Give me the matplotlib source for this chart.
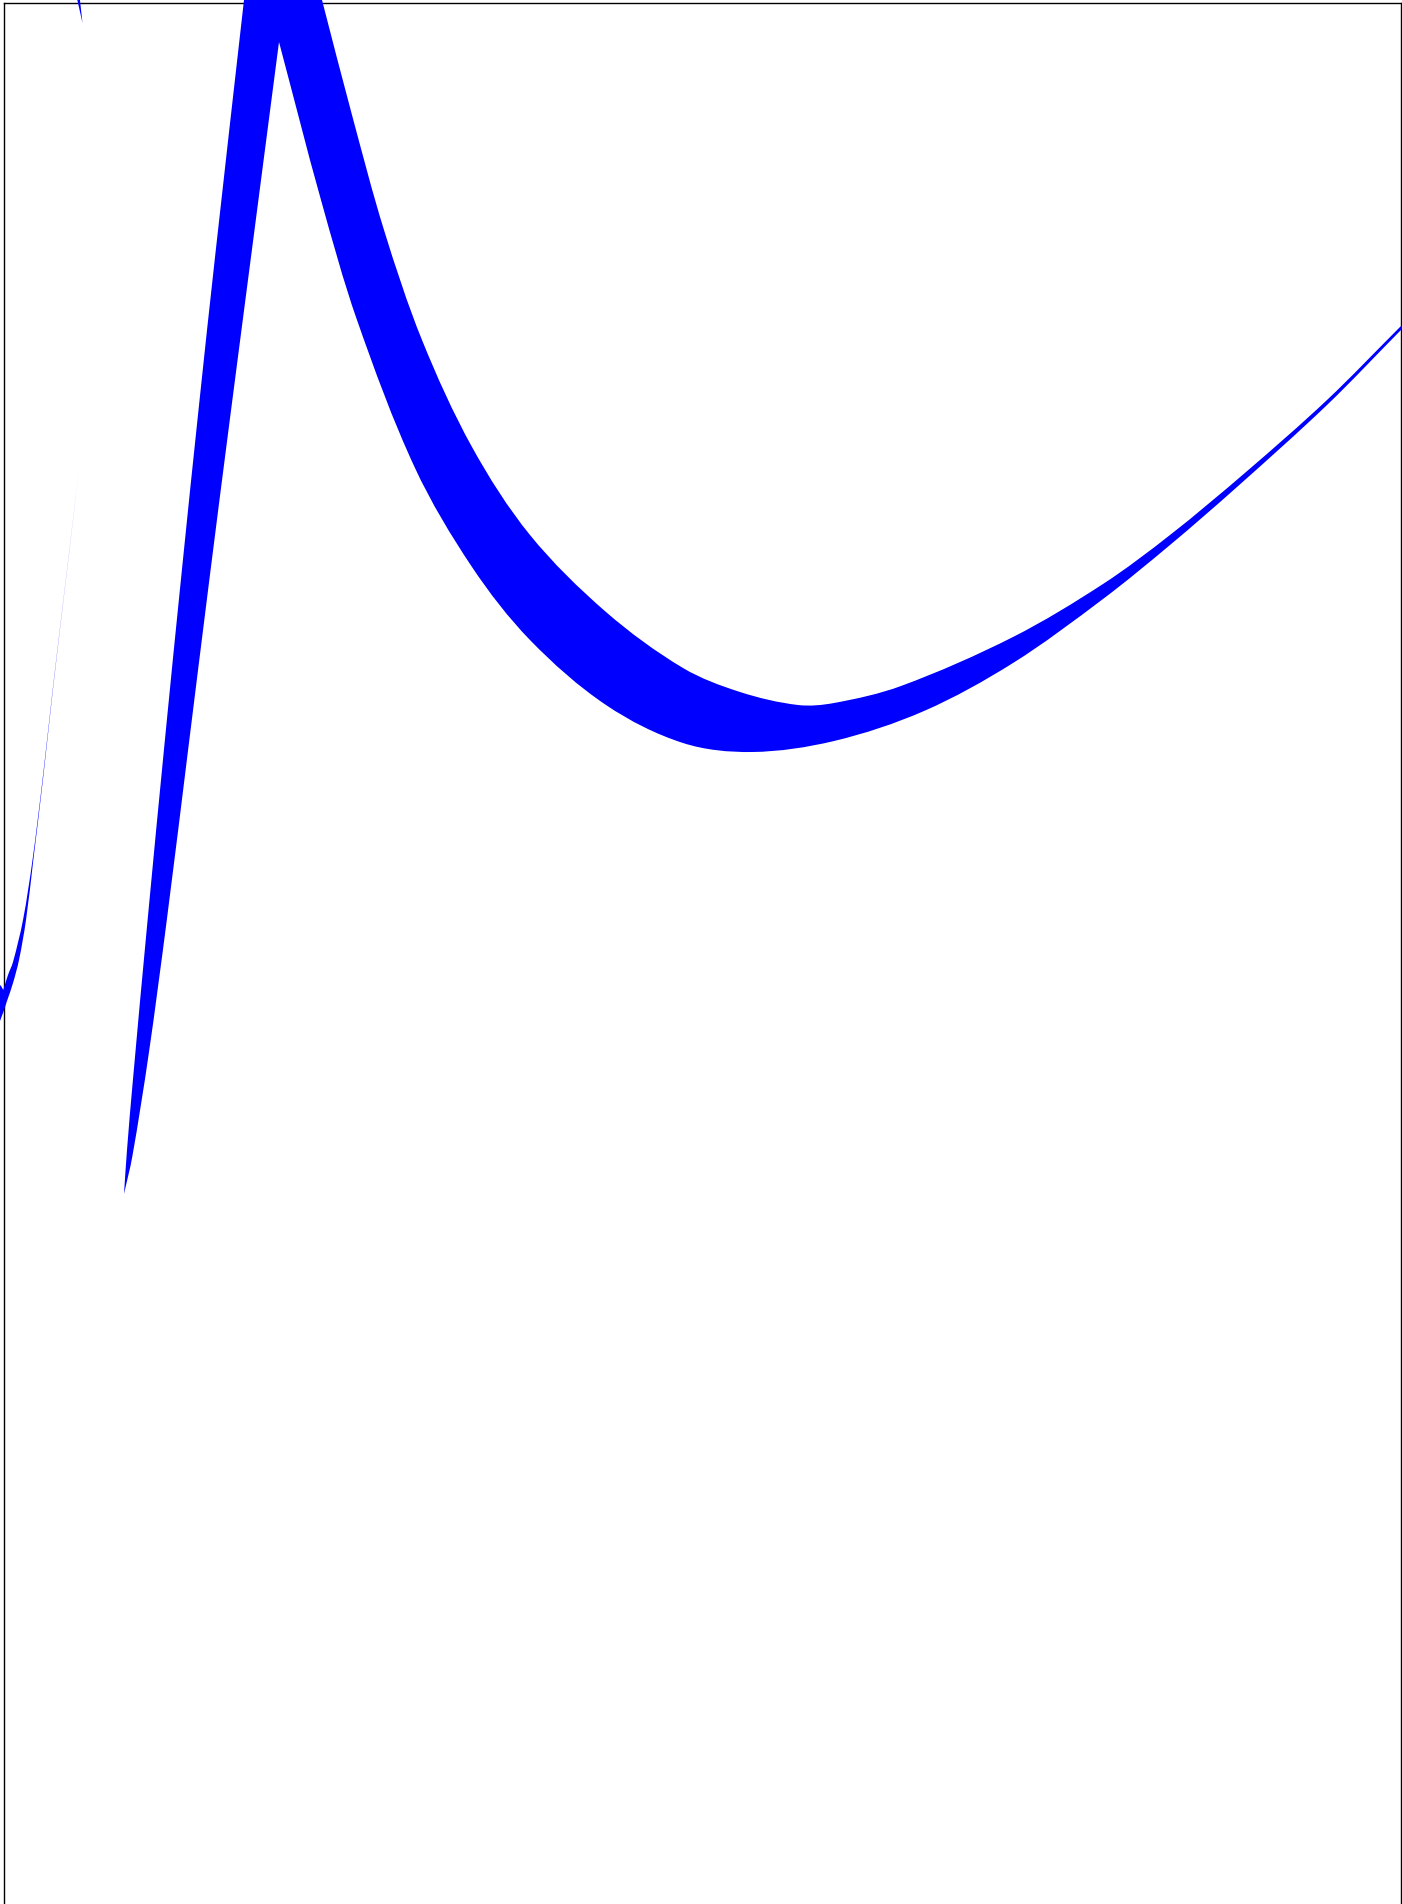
import numpy as np
import matplotlib
matplotlib.use("Agg")
import matplotlib.pyplot as plt
from matplotlib.path import Path
from matplotlib.patches import PathPatch

# ---- data (x right, y up) ----
# main band: upper (outer) boundary, left -> right
main_upper_x = [1.24, 1.27, 1.33, 1.476, 1.648, 1.82, 1.986, 2.158, 2.44, 2.51,
                3.06, 3.22, 3.52, 3.84, 4.22, 4.72, 5.30, 6.06, 6.83, 7.40,
                7.98, 8.34, 9.01, 10.13, 11.03, 11.70, 12.46, 13.27, 14.00, 14.20]
main_upper_y = [7.10, 7.54, 8.25, 9.84, 11.63, 13.35, 14.95, 16.54, 19.04, 19.64,
                19.64, 19.04, 17.89, 16.74, 15.64, 14.57, 13.69, 12.92, 12.36, 12.12,
                11.99, 12.01, 12.18, 12.67, 13.20, 13.69, 14.32, 15.04, 15.77, 15.97]
main_upper_corners = [0, 8, 9, 10, 11]
main_upper_straight = [8, 9, 10]          # segment i -> i+1 drawn straight

# main band: lower (inner) boundary, left -> right
main_lower_x = [1.24, 1.324, 1.487, 1.668, 1.892, 2.107, 2.312, 2.519, 2.79,
                3.21, 3.57, 4.15, 4.72, 5.30, 6.06, 6.83, 7.52, 8.34, 9.24,
                10.13, 11.03, 11.70, 12.37, 13.27, 14.00, 14.20]
main_lower_y = [7.10, 7.48, 8.50, 9.84, 11.63, 13.35, 14.95, 16.54, 18.62,
                17.04, 15.84, 14.36, 13.37, 12.64, 11.99, 11.61, 11.52, 11.63, 11.93,
                12.41, 13.05, 13.59, 14.17, 14.99, 15.73, 15.93]
main_lower_corners = [0, 8]

# thin left band
left_upper_x = [-0.05, 0.00, 0.033, 0.08, 0.13, 0.23, 0.325, 0.425, 0.53, 0.63, 0.73, 0.785]
left_upper_y = [9.20, 9.19, 9.14, 9.29, 9.42, 9.84, 10.44, 11.24, 12.17, 13.01, 13.84, 14.34]
left_upper_corners = [0, 2]
left_lower_x = [-0.05, 0.00, 0.07, 0.13, 0.19, 0.26, 0.333, 0.429, 0.532, 0.631, 0.7305, 0.785]
left_lower_y = [8.74, 8.83, 9.03, 9.21, 9.44, 9.84, 10.44, 11.24, 12.17, 13.01, 13.84, 14.34]
left_lower_corners = [0]

# small wedge at the top
wedge_x = [0.762, 0.794, 0.825]
wedge_y = [19.09, 19.09, 18.81]

# ---- figure ----
W, H = 1402, 1904
fig = plt.figure(figsize=(W / 100, H / 100), dpi=100)
left_px, right_px, top_px, bottom_px = 3.5, 1401.0, 3.0, 2004.0
ax = fig.add_axes([left_px / W, (H - bottom_px) / H,
                   (right_px - left_px) / W, (bottom_px - top_px) / H])
ax.set_xlim(left_px / 100, right_px / 100)
ax.set_ylim((H - bottom_px) / 100, (H - top_px) / 100)
ax.set_xticks([])
ax.set_yticks([])
for s in ax.spines.values():
    s.set_linewidth(1.0)
    s.set_color("black")

blue = "#0000ff"


def _unit(v):
    n = np.hypot(v[0], v[1])
    return v / n if n > 0 else v


def boundary_path(xs, ys, corners=(), straight=()):
    """Smooth cubic path through the read points (no new data points)."""
    P = np.column_stack([xs, ys]).astype(float)
    n = len(P)
    corners = set(corners) | {0, n - 1}
    verts, codes = [], []
    for i in range(n - 1):
        if i in straight:
            verts.append(P[i + 1]); codes.append(Path.LINETO)
            continue
        d = np.hypot(*(P[i + 1] - P[i])) / 3.0
        t0 = P[i + 1] - P[i] if i in corners else P[i + 1] - P[i - 1]
        t1 = P[i + 1] - P[i] if (i + 1) in corners else P[i + 2] - P[i]
        c1 = P[i] + _unit(t0) * d
        c2 = P[i + 1] - _unit(t1) * d
        verts += [c1, c2, P[i + 1]]
        codes += [Path.CURVE4] * 3
    return P[0], verts, codes


def band_patch(ux, uy, uc, us, lx, ly, lc, ls=()):
    start, v1, c1 = boundary_path(ux, uy, uc, us)
    n = len(lx)
    rx, ry = list(lx)[::-1], list(ly)[::-1]
    rc = [n - 1 - k for k in lc]
    rs = [n - 2 - k for k in ls]
    _, v2, c2 = boundary_path(rx, ry, rc, rs)
    verts = [start] + v1 + [np.array([rx[0], ry[0]])] + v2 + [start]
    codes = [Path.MOVETO] + c1 + [Path.LINETO] + c2 + [Path.CLOSEPOLY]
    return PathPatch(Path(np.array(verts), codes), facecolor=blue,
                     edgecolor="none", lw=0, clip_on=False, zorder=3)


ax.add_patch(band_patch(main_upper_x, main_upper_y, main_upper_corners,
                        main_upper_straight,
                        main_lower_x, main_lower_y, main_lower_corners))
ax.add_patch(band_patch(left_upper_x, left_upper_y, left_upper_corners, (),
                        left_lower_x, left_lower_y, left_lower_corners))
ax.fill(wedge_x, wedge_y, color=blue, lw=0, clip_on=False, zorder=3)

fig.savefig("out.png", dpi=100)
